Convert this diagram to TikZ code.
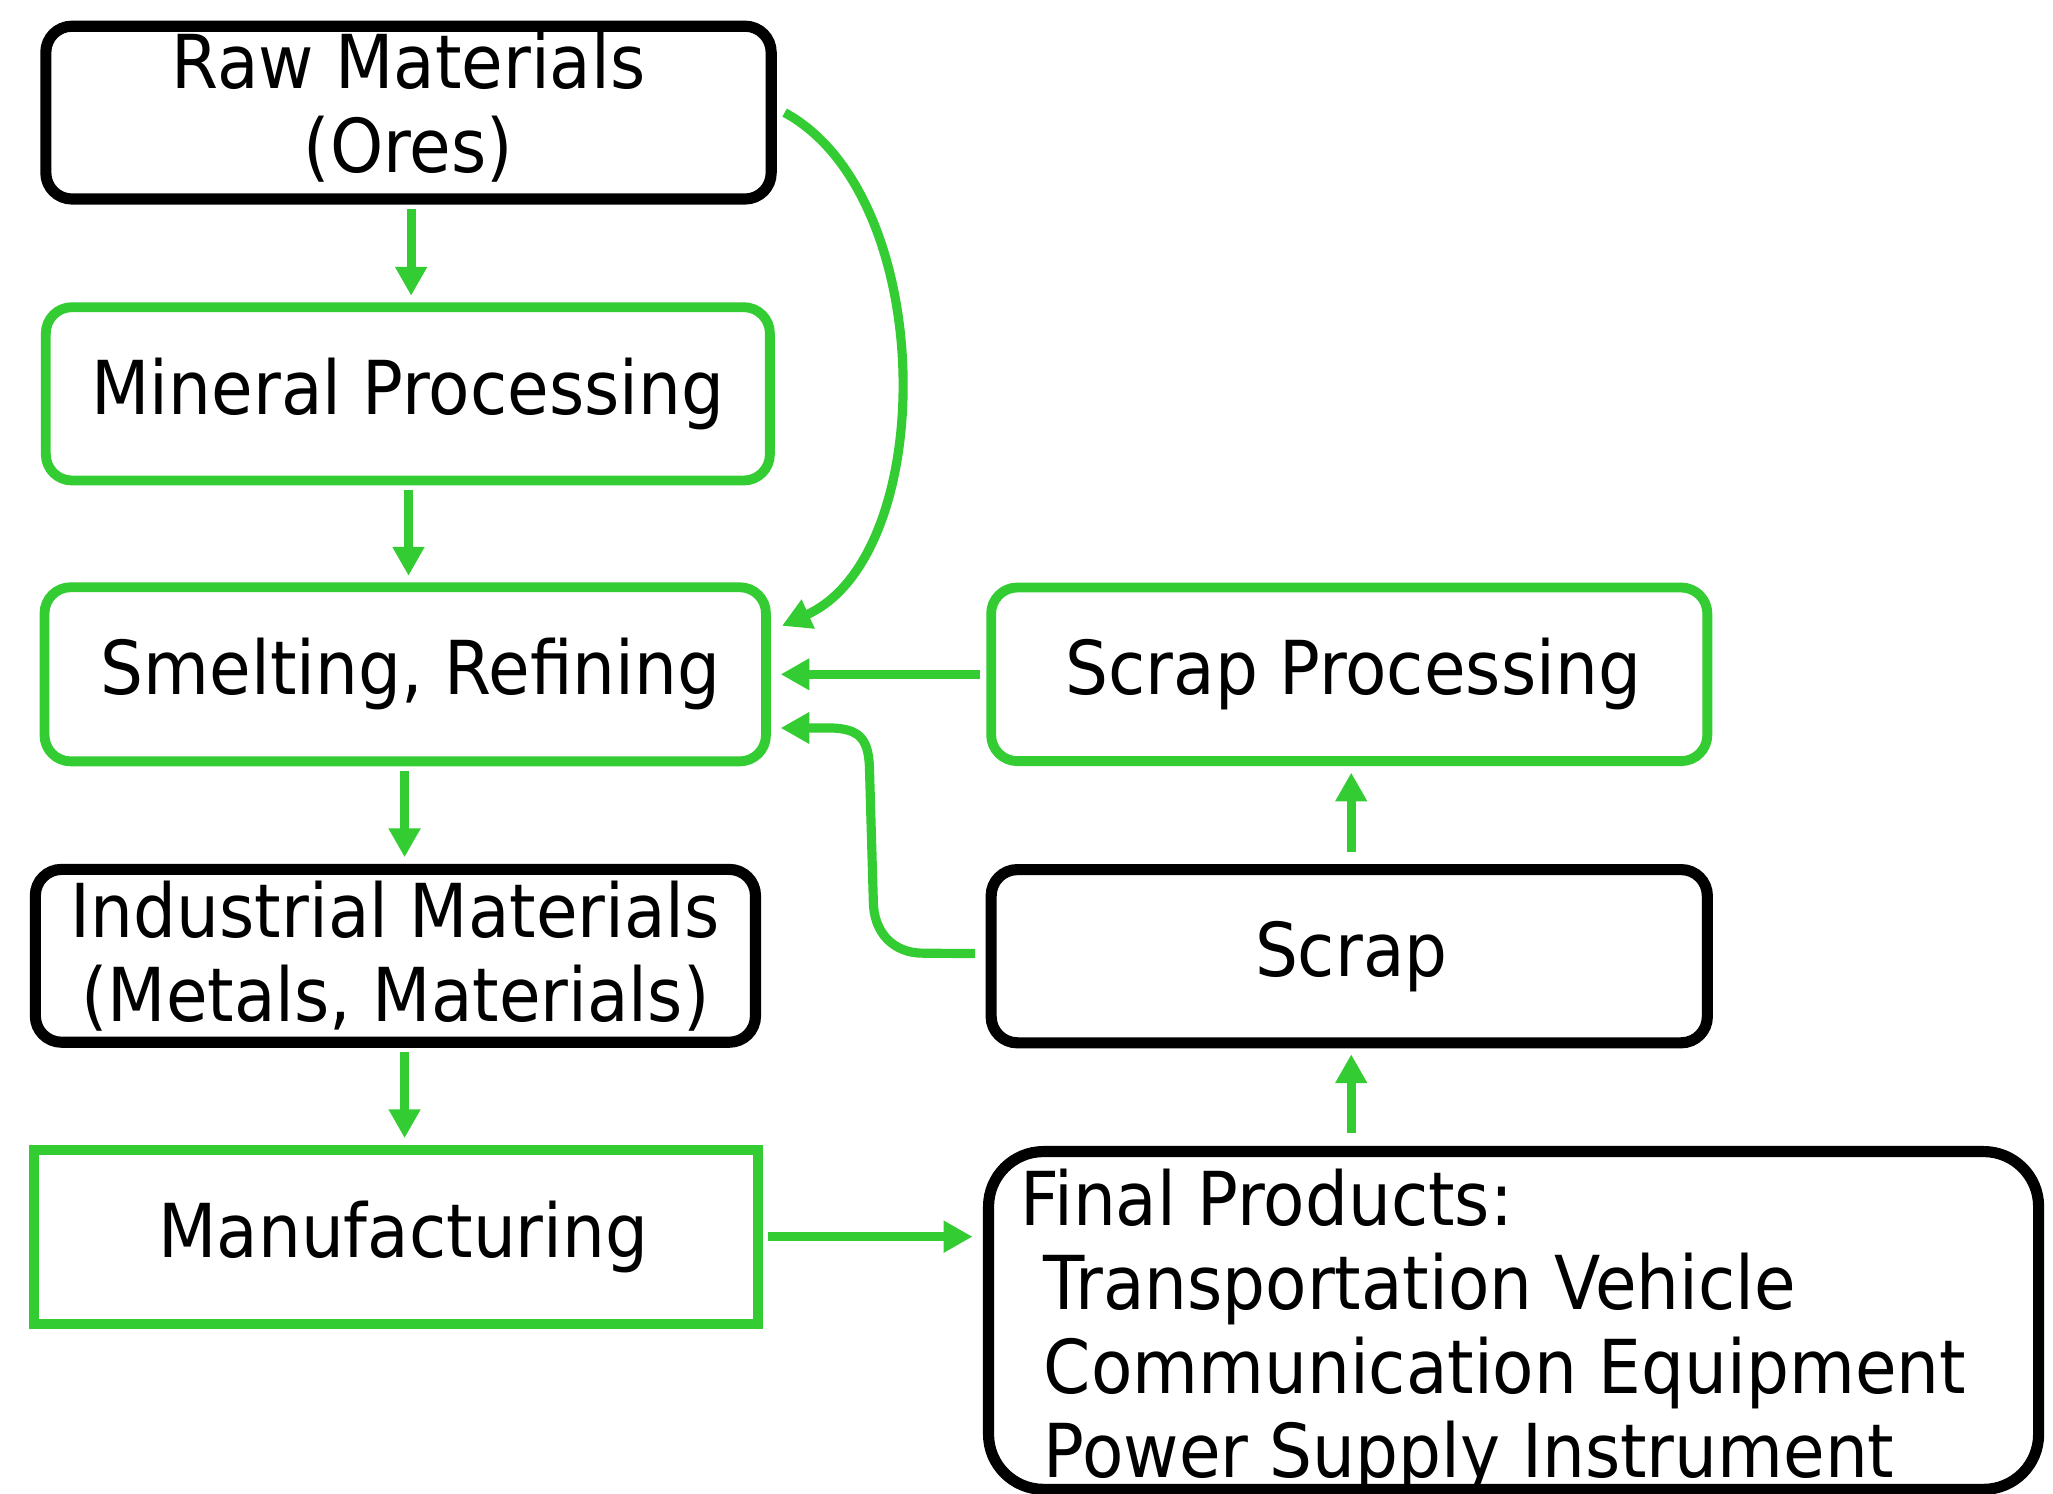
\documentclass[tikz,border=0pt]{standalone}
\usepackage{fontspec}
\setmainfont{DejaVu Sans}[FakeStretch=0.91]
\usetikzlibrary{arrows.meta,calc}
\definecolor{grn}{RGB}{51,204,51}
\newcommand\diagfont{\fontsize{56.8pt}{64.2pt}\selectfont}
\begin{document}
\begin{tikzpicture}[x=1pt,y=-1pt,
  gbox/.style={draw=grn, line width=7.5pt, rounded corners=20pt, inner sep=0pt, align=center, font=\diagfont},
  kbox/.style={draw=black, line width=8.5pt, rounded corners=20pt, inner sep=0pt, align=center, font=\diagfont},
  sbox/.style={draw=grn, line width=7.5pt, inner sep=0pt, align=center, font=\diagfont},
  arr/.style={draw=grn, line width=7pt, -{Triangle[length=22pt,width=23pt]}},
  vsh/.style={shorten <=3.5pt, shorten >=5pt}]
\fill[white] (0,0) rectangle (1568,1141);
\useasboundingbox (0,0) rectangle (1568,1141);

\node[kbox, minimum width=554pt, minimum height=132pt] (raw) at (312,86) {Raw Materials\\(Ores)\rule[-15.5pt]{0pt}{0pt}};
\node[gbox, minimum width=553pt, minimum height=132.4pt] (mineral) at (311.5,300.8) {Mineral Processing};
\node[gbox, minimum width=551pt, minimum height=133pt] (smelt) at (309.5,515) {\hspace*{8pt}Smelting, Refining};
\node[kbox, minimum width=550pt, minimum height=132pt] (indus) at (302,730) {Industrial Materials\\(Metals, Materials)};
\node[sbox, minimum width=553pt, minimum height=133pt] (manuf) at (302.5,944.5) {\hspace*{11pt}Manufacturing};
\node[gbox, minimum width=547pt, minimum height=132.6pt] (scrapproc) at (1030.5,515) {\hspace*{6pt}Scrap Processing};
\node[kbox, minimum width=547pt, minimum height=132.3pt] (scrap) at (1030.5,730.3) {\hspace*{3pt}Scrap};
\node[kbox, rounded corners=42pt, minimum width=802pt, minimum height=258pt] (final) at (1156,1008.5) {};
\node[anchor=north west, inner sep=0pt, align=left, font=\diagfont] (finaltxt) at (779,892.4)
  {Final Products:\\\hspace*{18pt}Transportation Vehicle\\\hspace*{18pt}Communication Equipment\\\hspace*{18pt}Power Supply Instrument};

% left column vertical arrows
\draw[arr, vsh] ([xshift=2pt]raw.south) -- ([xshift=2pt]raw.south |- mineral.north);
\draw[arr, vsh] ([xshift=0.5pt]mineral.south) -- ([xshift=0.5pt]mineral.south |- smelt.north);
\draw[arr, vsh] ([xshift=-0.5pt]smelt.south) -- ([xshift=-0.5pt]smelt.south |- indus.north);
\draw[arr, vsh] ([xshift=7pt]indus.south) -- ([xshift=7pt]indus.south |- manuf.north);

% manufacturing -> final
\draw[arr, shorten <=4pt, shorten >=8pt] (manuf.east) -- (manuf.east -| final.west);

% final -> scrap -> scrap processing
\draw[arr, shorten <=10pt, shorten >=4.5pt] ([xshift=1.5pt]final.north -| scrap.south) -- ([xshift=1.5pt]scrap.south);
\draw[arr, shorten <=9pt, shorten >=5pt] ([xshift=1.5pt]scrap.north) -- ([xshift=1.5pt]scrapproc.south);

% scrap processing -> smelting
\draw[arr, shorten <=5pt, shorten >=7.5pt] (scrapproc.west) -- (scrapproc.west -| smelt.east);

% scrap -> smelting
\draw[arr] ($(scrap.west)+(-8,-2)$) -- (705,728)
  .. controls (682,728) and (667,712) .. (667,688)
  -- (664,585)
  .. controls (663,563) and (655,557) .. (636,556)
  -- ($(smelt.east)+(7.5,41)$);

% raw -> smelting (bypass)
\draw[arr] ($(raw.east)+(6,0)$) .. controls (717,150) and (717,424) .. ($(smelt.east)+(8.5,-37)$);
\end{tikzpicture}
\end{document}
